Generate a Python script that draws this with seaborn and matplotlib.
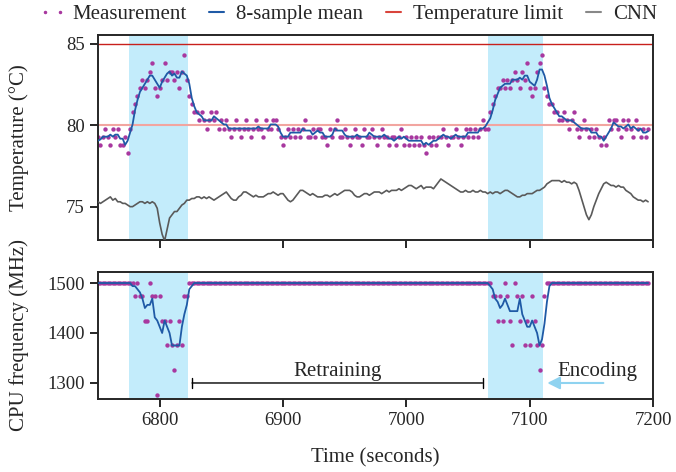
import numpy as np
import pandas as pd
import seaborn as sns
import matplotlib.pyplot as plt
from matplotlib.lines import Line2D

# Samples every 2 s, 6750 .. 7196
t_start, t_step = 6750, 2

temp_meas = [
    79.3, 78.8, 79.3, 79.8, 79.3, 78.8, 79.8, 79.3, 79.8, 78.8,
    78.8, 79.3, 78.3, 79.8, 80.8, 81.3, 81.8, 82.3, 82.8, 82.3,
    82.8, 83.3, 83.8, 82.3, 81.8, 82.3, 82.8, 83.8, 82.8, 83.3,
    83.3, 82.8, 83.3, 82.3, 83.3, 84.3, 82.8, 81.8, 81.3, 80.8,
    80.8, 80.3, 80.8, 80.3, 79.8, 80.3, 80.8, 80.3, 80.8, 79.8,
    80.3, 79.8, 80.3, 79.8, 79.3, 79.8, 80.3, 79.8, 79.3, 79.8,
    80.3, 79.8, 79.3, 79.8, 80.3, 79.8, 79.8, 79.3, 80.3, 79.8,
    79.8, 80.3, 80.3, 79.8, 79.3, 78.8, 79.3, 79.8, 79.3, 79.8,
    79.3, 79.8, 79.3, 79.8, 80.3, 79.3, 79.3, 79.8, 79.3, 79.8,
    79.8, 79.3, 79.3, 78.8, 79.8, 79.3, 79.8, 80.3, 79.3, 79.3,
    79.8, 79.3, 78.8, 79.3, 79.8, 79.3, 79.3, 78.8, 79.8, 79.3,
    79.3, 79.8, 79.3, 78.8, 79.3, 79.8, 79.3, 79.3, 78.8, 79.3,
    79.3, 78.8, 79.3, 79.8, 78.8, 79.3, 78.8, 79.3, 78.8, 79.3,
    78.8, 79.3, 78.8, 78.3, 79.3, 78.8, 79.3, 78.8, 79.3, 79.3,
    79.8, 79.3, 78.8, 79.3, 79.3, 79.8, 79.3, 78.8, 79.3, 79.8,
    79.3, 79.8, 79.3, 79.8, 79.3, 79.8, 80.3, 79.8, 79.8, 80.8,
    81.3, 81.8, 82.3, 82.3, 82.8, 82.3, 82.8, 82.3, 82.8, 83.3,
    82.8, 82.3, 83.3, 82.8, 83.8, 82.3, 81.8, 82.3, 83.3, 83.8,
    84.3, 82.3, 81.8, 81.3, 81.3, 80.8, 80.8, 80.3, 80.3, 80.8,
    80.3, 79.8, 80.3, 80.8, 79.8, 79.3, 79.8, 80.3, 79.8, 79.3,
    79.8, 79.3, 79.8, 79.3, 78.8, 79.3, 78.8, 80.3, 79.8, 80.3,
    80.3, 79.8, 79.3, 80.3, 79.8, 80.3, 79.8, 79.3, 80.3, 79.8,
    79.3, 79.8, 79.3, 79.8,
]

cnn_temp = [
    75.3, 75.2, 75.3, 75.4, 75.5, 75.6, 75.4, 75.5, 75.3, 75.3,
    75.2, 75.2, 75.1, 75.0, 75.0, 75.1, 75.2, 75.3, 75.3, 75.2,
    75.3, 75.2, 75.3, 75.2, 74.9, 74.0, 73.3, 72.9, 73.6, 74.3,
    74.5, 74.7, 74.7, 74.9, 75.1, 75.2, 75.4, 75.4, 75.5, 75.5,
    75.6, 75.6, 75.5, 75.6, 75.5, 75.6, 75.5, 75.4, 75.5, 75.6,
    75.7, 75.8, 75.9, 75.7, 75.5, 75.4, 75.4, 75.6, 75.7, 75.9,
    75.9, 75.8, 75.7, 75.6, 75.7, 75.6, 75.6, 75.6, 75.7, 75.8,
    75.8, 75.9, 75.8, 75.7, 75.8, 75.8, 75.6, 75.4, 75.3, 75.4,
    75.6, 75.8, 76.0, 76.0, 75.9, 75.8, 75.7, 75.8, 75.7, 75.6,
    75.6, 75.6, 75.7, 75.7, 75.6, 75.7, 75.8, 75.7, 75.8, 75.9,
    76.0, 76.0, 76.0, 75.9, 75.7, 75.6, 75.6, 75.7, 75.8, 75.8,
    75.7, 75.8, 75.9, 75.9, 75.9, 75.8, 75.9, 76.0, 75.9, 76.0,
    76.0, 76.0, 76.1, 76.0, 76.1, 76.2, 76.3, 76.3, 76.2, 76.1,
    76.2, 76.3, 76.1, 76.2, 76.2, 76.2, 76.1, 76.3, 76.5, 76.7,
    76.6, 76.5, 76.4, 76.3, 76.2, 76.1, 76.0, 75.9, 75.9, 76.0,
    75.9, 75.9, 76.0, 75.9, 75.9, 76.0, 75.9, 75.9, 75.8, 75.9,
    75.8, 75.9, 75.9, 75.8, 75.9, 76.0, 76.0, 75.9, 75.8, 75.7,
    75.6, 75.6, 75.7, 75.7, 75.8, 75.8, 75.8, 75.9, 76.0, 76.0,
    76.1, 76.2, 76.4, 76.5, 76.6, 76.6, 76.6, 76.6, 76.5, 76.6,
    76.5, 76.5, 76.4, 76.5, 76.4, 76.0, 75.5, 75.0, 74.5, 74.2,
    74.5, 75.0, 75.4, 75.8, 76.1, 76.4, 76.5, 76.4, 76.3, 76.3,
    76.2, 76.3, 76.2, 76.2, 76.0, 75.9, 75.8, 75.6, 75.5, 75.4,
    75.4, 75.3, 75.4, 75.3,
]

# CPU frequency (MHz): flat at 1500 outside the two throttling windows
freq_window1 = [1500, 1500, 1475, 1500, 1475, 1475, 1425, 1425, 1500, 1475,
                1475, 1275, 1475, 1425, 1425, 1375, 1425, 1375, 1325, 1375,
                1425, 1375, 1475, 1475, 1500, 1500]
freq_window2 = [1500, 1500, 1475, 1475, 1425, 1475, 1425, 1500, 1475, 1425,
                1375, 1500, 1475, 1425, 1475, 1375, 1425, 1375, 1475, 1425,
                1375, 1325, 1375, 1475, 1500, 1500]
freq_meas = [1500] * 13 + freq_window1 + [1500] * 119 + freq_window2 + [1500] * 40

temp_limit = 85
temp_target = 80
hot_spans = [(6775, 6823), (7066, 7111)]
retrain_span = (6824, 7064)

time = t_start + t_step * np.arange(len(temp_meas))
df = pd.DataFrame({'Time': time, 'Temp': temp_meas, 'CNN': cnn_temp, 'Freq': freq_meas})
# 8 s window at 2 s sampling
df['TempMean'] = df['Temp'].rolling(4, center=True, min_periods=1).mean()
df['FreqMean'] = df['Freq'].rolling(4, center=True, min_periods=1).mean()

sns.set_style('ticks')
plt.rcParams['font.family'] = ['Liberation Serif', 'DejaVu Serif']
plt.rcParams['font.size'] = 15
plt.rcParams['xtick.labelsize'] = 13.5
plt.rcParams['ytick.labelsize'] = 13.5
plt.rcParams['axes.linewidth'] = 1.4
plt.rcParams['xtick.major.width'] = 1.4
plt.rcParams['ytick.major.width'] = 1.4
plt.rcParams['xtick.major.size'] = 6
plt.rcParams['ytick.major.size'] = 6

meas_c = '#a8389f'
mean_c = '#1f5aa6'
limit_c = '#d9443c'
cnn_c = '#5a5a5a'
span_c = '#c3ecfb'

fig = plt.figure(figsize=(6.76, 4.72), dpi=100)
ax1 = fig.add_axes([0.145, 0.4915, 0.821, 0.4345])
ax2 = fig.add_axes([0.145, 0.1547, 0.821, 0.269], sharex=ax1)

for ax in (ax1, ax2):
    for a, b in hot_spans:
        ax.axvspan(a, b, color=span_c, lw=0, zorder=0)

# Temperature panel
ax1.axhline(temp_limit, color='#c8201c', lw=1.0, zorder=1)
ax1.axhline(temp_target, color='#f2a5a0', lw=1.5, zorder=1)
sns.scatterplot(data=df, x='Time', y='Temp', ax=ax1, color=meas_c, s=10,
                linewidth=0, zorder=2, legend=False)
sns.lineplot(data=df, x='Time', y='TempMean', ax=ax1, color=mean_c, lw=1.3, zorder=3)
sns.lineplot(data=df, x='Time', y='CNN', ax=ax1, color=cnn_c, lw=1.2, zorder=3)
ax1.set_ylim(72.95, 85.55)
ax1.set_yticks([75, 80, 85])
ax1.set_ylabel('Temperature (°C)')
ax1.set_xlabel('')
ax1.tick_params(labelbottom=False)

# Frequency panel
sns.scatterplot(data=df, x='Time', y='Freq', ax=ax2, color=meas_c, s=10,
                linewidth=0, zorder=2, legend=False)
sns.lineplot(data=df, x='Time', y='FreqMean', ax=ax2, color=mean_c, lw=1.3, zorder=3)
ax2.set_ylim(1268, 1522)
ax2.set_yticks([1300, 1400, 1500])
ax2.set_ylabel('CPU frequency (MHz)')
ax2.set_xlim(6750, 7200)
ax2.set_xticks([6800, 6900, 7000, 7100, 7200])
ax2.set_xlabel('Time (seconds)', labelpad=14)

for ax in (ax1, ax2):
    ax.yaxis.set_label_coords(-0.125, 0.5)

ax2.annotate('', xy=(retrain_span[0], 1300), xytext=(retrain_span[1], 1300),
             arrowprops=dict(arrowstyle='|-|,widthA=0.25,widthB=0.25', color='black', lw=1.0))
ax2.text(sum(retrain_span) / 2, 1313, 'Retraining', ha='center', va='baseline')
ax2.annotate('', xy=(7112, 1300), xytext=(7162, 1300),
             arrowprops=dict(arrowstyle='-|>,head_width=0.25,head_length=0.5',
                             color='#8fd3f0', lw=1.5))
ax2.text(7155, 1313, 'Encoding', ha='center', va='baseline')

handles = [
    Line2D([], [], ls='none', marker='.', markersize=3, color=meas_c),
    Line2D([], [], color=mean_c, lw=1.5),
    Line2D([], [], color=limit_c, lw=1.5),
    Line2D([], [], color='#888888', lw=1.5),
]
labels = ['Measurement', '8-sample mean', 'Temperature limit', 'CNN']
fig.legend(handles, labels, loc='upper center', bbox_to_anchor=(0.515, 1.03), ncol=4,
           frameon=False, handlelength=1.3, handletextpad=0.3, columnspacing=0.8,
           numpoints=2)

fig.savefig('out.png', dpi=100)
